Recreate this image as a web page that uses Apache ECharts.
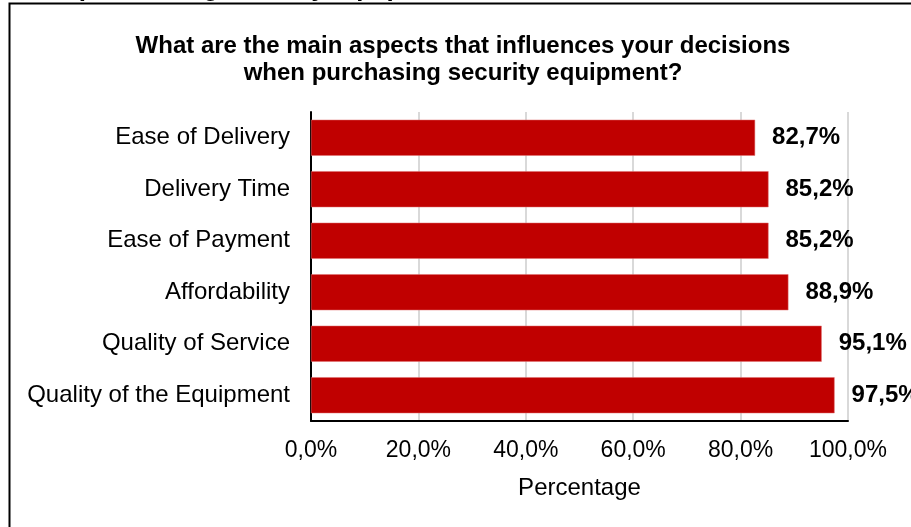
<!DOCTYPE html>
<html>
<head>
<meta charset="utf-8">
<script src="https://cdn.jsdelivr.net/npm/echarts@6/dist/echarts.min.js"></script>
<style>
  html, body { margin: 0; padding: 0; background: #fff; }
  #chart { width: 911px; height: 527px; }
</style>
</head>
<body>
<div id="chart"></div>
<script>
// survey answers, top to bottom
const categories = [
  'Ease of Delivery',
  'Delivery Time',
  'Ease of Payment',
  'Affordability',
  'Quality of Service',
  'Quality of the Equipment'
]
const percentages = [82.7, 85.2, 85.2, 88.9, 95.1, 97.5]
const xTicks = [0, 20, 40, 60, 80, 100]

const chart = echarts.init(document.getElementById('chart'))

// 0.0 -> "0,0%"
const fmt = (v) => v.toFixed(1).replace('.', ',') + '%'

const option = {
  animation: false,
  backgroundColor: '#fff',
  textStyle: { fontFamily: 'Liberation Sans, Arial, sans-serif' },
  graphic: [
    {
      // caption above the frame, only its descenders are visible
      type: 'text',
      x: 5,
      y: 2,
      style: {
        text: 'when purchasing security equipment',
        font: 'bold 26px "Liberation Sans", Arial, sans-serif',
        fill: '#000',
        verticalAlign: 'bottom'
      }
    },
    {
      // frame of the chart area, cut off at right and bottom
      type: 'rect',
      shape: { x: 9.5, y: 3.5, width: 1000, height: 700 },
      style: { fill: '#fff', stroke: '#000', lineWidth: 2 }
    },
    {
      type: 'text',
      x: 463,
      y: 33,
      style: {
        text: 'What are the main aspects that influences your decisions\nwhen purchasing security equipment?',
        font: 'bold 24px "Liberation Sans", Arial, sans-serif',
        fill: '#000',
        align: 'center',
        lineHeight: 27
      }
    }
  ],
  grid: { left: 311, right: 63, top: 112, bottom: 106 },
  xAxis: {
    type: 'value',
    min: xTicks[0],
    max: xTicks[xTicks.length - 1],
    interval: 20,
    name: 'Percentage',
    nameLocation: 'middle',
    nameGap: 55,
    nameTextStyle: { fontSize: 24, color: '#000' },
    axisLine: { show: true, lineStyle: { color: '#000', width: 2 } },
    axisTick: { show: false },
    axisLabel: { fontSize: 23, color: '#000', margin: 18, formatter: fmt },
    splitLine: { show: true, lineStyle: { color: '#d9d9d9', width: 2 } }
  },
  yAxis: {
    type: 'category',
    data: categories,
    inverse: true,
    axisLine: { show: true, lineStyle: { color: '#000', width: 2 } },
    axisTick: { show: false },
    axisLabel: { fontSize: 24, color: '#000', margin: 21 }
  },
  series: [
    {
      type: 'bar',
      data: percentages,
      barCategoryGap: '30%',
      itemStyle: { color: '#c00000', borderColor: '#e07070', borderWidth: 0.5 },
      label: {
        show: true,
        position: 'right',
        distance: 17,
        formatter: (p) => fmt(p.value),
        fontSize: 24,
        fontWeight: 'bold',
        color: '#000'
      }
    }
  ]
}

chart.setOption(option)
window.addEventListener('resize', () => chart.resize())
</script>
</body>
</html>
